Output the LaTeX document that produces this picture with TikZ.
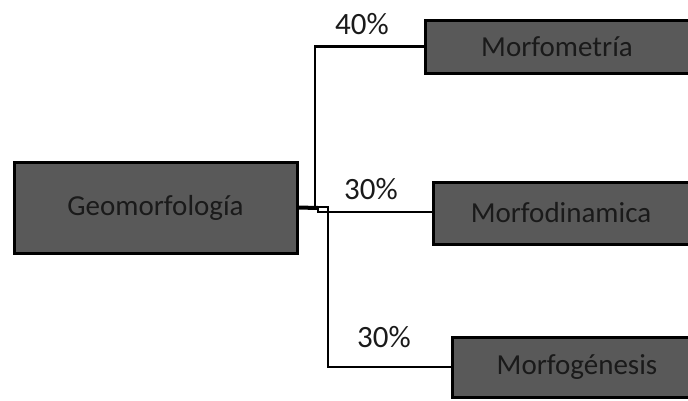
\documentclass[tikz,border=0pt]{standalone}
\usepackage{fontspec}
\setmainfont{Carlito}
\usepackage{tikz}
\usepackage{color}
\definecolor{boxgray}{RGB}{89,89,89}
\definecolor{txtdark}{RGB}{26,26,26}

\begin{document}
\begin{tikzpicture}[x=1pt,y=-1pt,
	box/.style={draw=black,line width=3pt,fill=boxgray,text=txtdark,inner sep=0pt,font=\fontsize{29}{34}\selectfont},
	link/.style={draw=black,line width=2.2pt},
	pct/.style={inner sep=0pt,text=txtdark,font=\fontsize{31}{36}\selectfont}]
	\useasboundingbox (0,0) rectangle (688,400);
	\node [box,minimum width=283pt,minimum height=91pt] (geo) at (155.5,207.5) {Geomorfología};
	\node [box,minimum width=264pt,minimum height=53pt] (met) at (557,46.5) {Morfometría};
	\node [box,minimum width=256pt,minimum height=62pt] (din) at (561,213) {Morfodinamica};
	\node [box,minimum width=250pt,minimum height=60pt] (gen) at (577,367) {Morfogénesis};
	\coordinate (stub) at (318,208);
	\coordinate (up) at (315,208);
	\coordinate (mid) at (318,212);
	\coordinate (down) at (328,207);
	\draw [black,line width=4pt] (geo.east) -- (stub);
	\draw [link] (up) |- (met.west);
	\draw [link] (stub |- down) rectangle (down |- mid);
	\draw [link] (mid) -- (din.west |- mid);
	\draw [link] (down) |- (gen.west);
	\node [pct] (p1) at (362,24) {40\%};
	\node [pct] (p2) at (371,189.5) {30\%};
	\node [pct] (p3) at (384,337) {30\%};
\end{tikzpicture}
\end{document}
